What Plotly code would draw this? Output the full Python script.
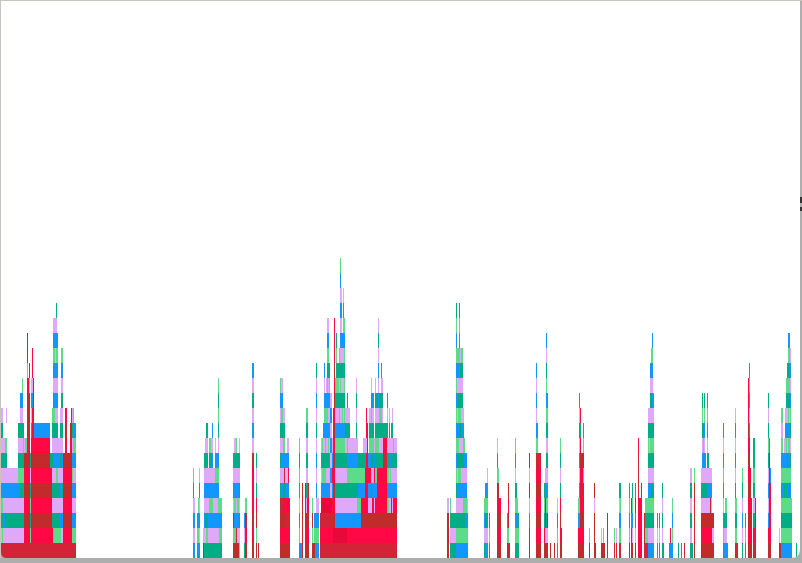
import plotly.graph_objects as go

# Each bin: left edge, width, and the stack of category codes from the bottom up.
c1_left = [1,2,3,5,6,7,18,20,22,23,24,25,27,28,29,30,31,32,33,34,50,52,53,54,55,56,57,58,60,61,62,63,65,66,67,70,71,72,73,74]
c1_width = [1,1,2,1,1,11,2,2,1,1,1,2,1,1,1,1,1,1,1,16,2,1,1,1,1,1,1,2,1,1,1,2,1,1,3,1,1,1,1,2]
c1_stack = ["RLBGBLTLTL","RGTGBLTLTL","RLBLBLTL","RLTLBLTG","RLTLBLTG.L","RLTLBL","RLTLBGTLT","RLTLTGTLTLB","RLTLTGTLTLBG","RLTLBGTGT",
            "RFDFDFDL","RFDFDFDG","RFDFDFDFDDDFGFD","RFDFDFDFDDDF","RFDFDFDFDDDLD","RGTGTLT","RFDFDFDFTLBL","RFDFDFDFFFBLFF","RFDFDFDFFFFD","RFDFDFDFB",
            "RFDFDFT","RFTLTLTLTG","RGTLTLBLTGBLBGBL","RGTLTLBLTGBLBGBL","RGTLTLBLTLBLBLBL","RGTLTGBLTLBLBGBLT","RGTLTGBLTLBLBGB","RGTLTLBL","RGBLBLTLTL","RLTLBLTLTLTLBG",
            "RLBLTLBLTLTLBG","RFDFDFD","RFDFDFDFDF","RFDFDFDFDF","RFDFDFD","RFDFDFDFD","RFDFDFDFDD","RGBLBGBLTL","RGTLBLBGBG","RGBLBLBGB"]

c2_left = [193,194,197,198,199,203,204,205,206,207,208,209,211,212,213,215,216,218,219,233,234,236,237,239,244,245,252,256,258,280,281,283,284,285,287,288,289]
c2_width = [1,1,1,1,1,1,1,1,1,1,1,2,1,1,2,1,2,1,3,1,2,1,2,1,1,2,2,1,1,1,2,1,1,2,1,1,1]
c2_stack = ["BLBLTG","BLBL","BGB","BGBG","BLBLTL","RL","TLBLBLT","TLTLBLTL","TGTLBLTLT","TGTLBLTLT","TLBLBL","TLBGBLTG","TLBGBLTL","TLBGBLBLB","TLBLBL","TLBLBGBL","TLBLBGB","TLBGBGBLTGTG","TGBG",
            "DGDLTLT","DGBGBLTL","DRBLBLTG","DLBGBLT","GLTLTLTL","TLB","DFDG","DFDFFFDLBLTLB","DGDFTLT","D","DFDDTLTLTLBG","DFDRBLBLTGBL","DFDFTLBGBL","DFDFTRBGTL","DFRFBLB","DFRFBLBL","DFRFBFBL","DFRF"]

c3_left = [299,300,302,305,306,307,308,312,313,314,315,316,317,320,321,322,323,324,325,326,327,328,329,330,332,333,334,335,336,337,339,340,341,342,343,344,345,347,348,350,356,357,358,361,363,365,366,367,368,369,371,372,374,375,376,377,378,379,381,382,383,387,388,389,390,391,392,393,394,395,396]
c3_width = [1,2,1,1,1,1,1,1,1,1,1,1,2,1,1,1,1,1,1,1,1,1,1,2,1,1,1,1,1,2,1,1,1,1,1,1,2,1,2,6,1,1,3,2,2,1,1,1,1,2,1,2,1,1,1,1,1,2,1,1,4,1,1,1,1,1,1,1,1,1,1]
c3_stack = ["TGTLBGTG","B","DDDDD","DFDFD","DFDLTLTLTG","DFDFTLBLTG","DFDFD","DGDG","D","DGB","BGB","BGBLBLBLTLBLT","BGBL","RFR",
            "RFREBLTL","RFREBGTG","RFREBGTLB","RFREBGTLBGBLB","RFREBGTGBGB","RFREBLTLBGBL","RFREBLTLBGBGTGBL","RFREBLTGBLBLTGBL","RFREBLBLBLBGT","RFRELBLBLBL","RFRFBFBL","RERFFFRFRF","REDFDFDFDFDFDFFF",
            "REBLTLTGBLTG","REBLTLTGBLTGTGT","REBLTLTGBLTGT","REBLTLTGBGTLTG","REBLTLTGBLTGTLBLBLBG","REBLTLTGBLTLTLBLBL","REBLTLTGBGTLTLB","REBLTLTGBLTLBLBGBL","REBLTLTGBGTGTGBG","REBLTLTLTL","RFBLTGBGTLT","RFBLTGBLTL","RFBLTGBL",
            "RFBLTGBLTLTL","RFBGTGBL","RFBGBGT","RFDFBGT","RFDFBGTL","RFDFFFTL","RFDFFFFLFF","RFDFFFRFF","RFDLBFB","RFDLBFBGTL","RFDLTLTGTGTL","RFDFBLTGTLB","RFDLBFBL","RFDFBGTGTLTL","RFDFBGTGTLT","RFDFFFTGTLT","RFDFFFTGTLBLBLTL","RFDFFFTLTGT","RFDFFFTLTGTLB","RFDFFFTLTLTL","RFDFFFRFT","RFDGTGTLTLT","RFDGBGTL","RFDLBLTLTL","RFDLBGBL","RFDFBLTLT","RFDLBLTLTL","RFDFBLTG","RFDFBLTL","RFDFBLTL","RFDFBLTL"]

c4_left = [447,450,451,456,457,458,459,460,461,463,464,465,467,484,485,487,489,497,498,499,507,508,509,515,516,517,518,529,536,537,538,544,545,546,547,550,554,557]
c4_width = [2,1,5,1,1,1,1,1,2,1,1,2,1,1,2,1,1,1,1,2,1,1,1,1,1,1,1,1,1,1,3,1,1,1,1,1,1,1]
c4_stack = ["DDDL","TLTG","TLT","BGTLTGBGBGBGBGBGT","BGTLBLTGTLBLTG","BGTLBGTGBGTLBG","BGTLBGTLTGTLBGBGT","BGTLBGTLTGTLTL","BGTLBLTLBLTLTG","BGTGBLTGBL","BGTGBLBG","BGBGBLB","BGBL",
            "TLBG","BLTGB","BLTGBL","TGT","DFDRRGTL","DFDFDG","DFDF","DGT","DGDFD","D","TGBGTLBG","TGBGT","TGBG","TGT",
            "DFBLRLR","DFDFDFRGBLBLB","DFDFDFRGB","DFDFDFR","DFTGT","DLDFBL","DLTGBLTLTGBGTLB","DLDGBLTLTGB","D","D","BGTL"]

c5_left = [560,561,578,579,580,581,582,583,589,594,595,601,602,603,604,607,614,616,619,620,629,631,632,635,638,639,641,644,645,648,649,650,651,652,653,657,659,662,663,669,670,671,672,678]
c5_width = [1,1,1,1,1,1,1,1,1,1,1,1,1,1,1,1,1,1,1,1,1,1,1,1,1,2,1,1,3,1,1,1,1,1,1,1,1,1,1,1,1,1,1,1]
c5_stack = ["DFDFTLTG","DF","DFBG","DFBGBLBLTLB","DFDFFFDFTF","DFDFFFD","DFDFRFD","DFDFFGDGB","DG","DDDLD","D","DL","D","DG","D","RRR",
            "RG","RL","RGBLT","RGBGT","DGTGB","DRBF","DLBGT","RLTRT","FFFFRRRF","FFFF","FFFRF","RRR","RGTG",
            "BLTGBLTGTL","BLTGBLTLTL","BLTGBLTGTLTLB","BLTGTLTGTLTLBG","BLTGTLTGTLBLBGB","BLTGTLTGTLB","TLT","TLT","TLTLT","T","B","BF","B","BGBG","T"]

c6_left = [681,684,690,692,694,701,702,703,704,705,706,707,708,709,710,711,712,723,724,725,727,735,736,737,742,745,748,749,750,751,753,755,768,769,770,779,780,781,782,783,784,785,786,787,788,789,790,791,796]
c6_width = [1,1,2,1,1,1,1,1,1,1,1,1,1,1,1,1,2,1,1,2,1,1,1,1,1,1,1,1,1,1,2,1,1,1,1,1,1,1,1,1,1,1,1,1,1,1,1,1,1]
c6_stack = ["T","R","TLTLTL","T","DRDRDG","DFDLTL","DFDLTLBLTGT","DFDLTLBGT","DFDLTLBLBGT","DFDLTLB","DFDLTL","DFDLBLTLBGB","DFDLBLT","DFDLBL","DFDRBL","DFDLBL","DLD",
            "TGBLBGBLB","BLT","BLTG","B","RGTGTLBLBL","RGTG","R","TLBLTG","TGT","DFDFDFDFDFFF","DFDFDFFFTLBGB","DFDFDF","DFDF","DFTLTGTT","DFDF","DFBLBLTGTLT","DFDFFFFB","DFFFFB",
            "DL","D","BGTGBGBGLG","BGTGBGBGLG","BGTGBGB","BGTGTGBL","BGTGBGBLBL","BGTGTGBGBLTG","BGTGBGTLBLTGT","BGTGBGBGBGTGTGB","BGTGTGBGBLTGBGB","BGTGBGTLTGBLBL","BGTG","T"]

category_colors = {"R":"#D32336","F":"#FF0844","D":"#C22B2B","E":"#E8093A",
                   "B":"#1496FF","T":"#00AD84","G":"#5CDB8B","L":"#DFA9F9",".":"rgba(0,0,0,0)"}

bin_left = c1_left + c2_left + c3_left + c4_left + c5_left + c6_left
bin_width = c1_width + c2_width + c3_width + c4_width + c5_width + c6_width
bin_stack = c1_stack + c2_stack + c3_stack + c4_stack + c5_stack + c6_stack

fig = go.Figure()
max_level = max(len(s) for s in bin_stack)
for level in range(max_level):
    idx = [i for i, s in enumerate(bin_stack) if len(s) > level]
    fig.add_trace(go.Bar(
        x=[bin_left[i] for i in idx],
        y=[1] * len(idx),
        width=[bin_width[i] for i in idx],
        offset=0,
        marker=dict(color=[category_colors[bin_stack[i][level]] for i in idx], line=dict(width=0)),
        showlegend=False,
        hoverinfo="skip",
    ))

PW, PH = 799.0, 557.0  # plot area in pixels, for the window frame decoration
frame = "#c8c4bc"
edge = "#aeaeae"
fig.update_layout(
    width=802, height=563, autosize=False,
    barmode="stack",
    margin=dict(l=1, r=2, t=1, b=5, pad=0),
    paper_bgcolor=edge,
    plot_bgcolor="#ffffff",
    xaxis=dict(range=[1, 800], visible=False, fixedrange=True),
    yaxis=dict(range=[0, 557 / 15], visible=False, fixedrange=True),
    shapes=[
        dict(type="rect", xref="paper", yref="paper", x0=-1/PW, x1=802/PW, y0=1, y1=1 + 1/PH,
             fillcolor=frame, line_width=0),
        dict(type="rect", xref="paper", yref="paper", x0=-1/PW, x1=0, y0=0, y1=1 + 1/PH,
             fillcolor=frame, line_width=0),
        # rounded window corners
        dict(type="path", xref="paper", yref="paper", fillcolor=edge, line_width=0,
             path=f"M 0 0 L 0 {6/PH} Q 0 0 {6/PW} 0 Z"),
        dict(type="path", xref="paper", yref="paper", fillcolor=edge, line_width=0,
             path=f"M 1 0 L 1 {9/PH} Q 1 0 {790/PW} 0 Z"),
        # dark specks on the right edge of the window
        dict(type="rect", xref="paper", yref="paper", x0=799/PW, x1=801/PW, y0=1 - 202/PH, y1=1 - 196/PH,
             fillcolor="#333333", line_width=0),
        dict(type="rect", xref="paper", yref="paper", x0=799/PW, x1=801/PW, y0=1 - 210/PH, y1=1 - 206/PH,
             fillcolor="#333333", line_width=0),
    ],
)
fig.write_html("out.html", config={"displayModeBar": False},
               post_script="document.body.style.margin='0';document.body.style.overflow='hidden';")
